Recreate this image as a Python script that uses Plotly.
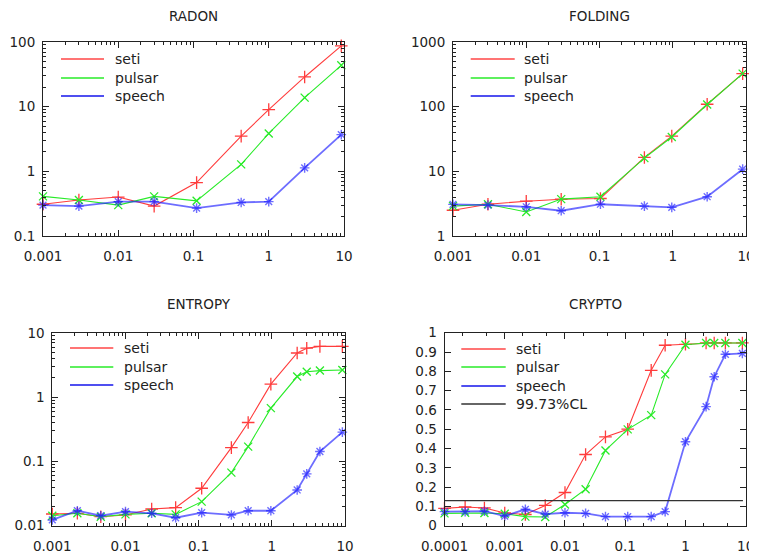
import plotly.graph_objects as go

W, H = 757, 556
OFF = 8  # page body margin of the browser
FONT = "DejaVu Sans"
INK = "#222222"

# ---------------- data ----------------
series_names = ["seti", "pulsar", "speech"]

radon_x = [0.001, 0.003, 0.01, 0.03, 0.11, 0.43, 1.0, 3.0, 9.2]
radon_seti = [0.31, 0.36, 0.40, 0.29, 0.67, 3.5, 9.0, 28.8, 87]
radon_pulsar = [0.41, 0.36, 0.30, 0.41, 0.35, 1.28, 3.85, 13.8, 43.6]
radon_speech = [0.30, 0.29, 0.34, 0.34, 0.27, 0.33, 0.34, 1.13, 3.7]

folding_x = [0.001, 0.003, 0.01, 0.03, 0.103, 0.41, 0.97, 2.95, 9.0]
folding_seti = [2.5, 3.1, 3.45, 3.7, 3.8, 16.4, 35, 109, 324]
folding_pulsar = [2.9, 3.1, 2.35, 3.72, 4.05, 16.0, 34, 108, 324]
folding_speech = [3.08, 3.0, 2.83, 2.46, 3.1, 2.9, 2.77, 4.05, 10.8]

entropy_x = [0.001, 0.0022, 0.0046, 0.01, 0.0228, 0.0485, 0.11, 0.28, 0.475,
             0.97, 2.22, 3.0, 4.54, 9.2]
entropy_seti = [0.0152, 0.0156, 0.0138, 0.0147, 0.0182, 0.0191, 0.0383, 0.164,
                0.404, 1.6, 4.88, 5.8, 6.2, 6.2]
entropy_pulsar = [0.0143, 0.0156, 0.0138, 0.015, 0.0156, 0.015, 0.0237, 0.067,
                  0.17, 0.676, 2.1, 2.5, 2.6, 2.65]
entropy_speech = [0.0123, 0.0171, 0.0143, 0.0166, 0.0156, 0.0133, 0.016, 0.0147,
                  0.0171, 0.0171, 0.036, 0.064, 0.143, 0.286]

crypto_x = [0.0001, 0.00022, 0.00046, 0.001, 0.0022, 0.0047, 0.01, 0.022, 0.047,
            0.11, 0.27, 0.46, 1.0, 2.2, 3.0, 4.6, 8.8]
crypto_seti = [0.09, 0.097, 0.092, 0.066, 0.058, 0.105, 0.172, 0.369, 0.46, 0.5,
               0.805, 0.935, 0.94, 0.947, 0.947, 0.947, 0.947]
crypto_pulsar = [0.064, 0.067, 0.066, 0.062, 0.047, 0.045, 0.11, 0.189, 0.39, 0.499,
                 0.573, 0.784, 0.938, 0.947, 0.947, 0.947, 0.947]
crypto_speech = [0.073, 0.073, 0.075, 0.05, 0.085, 0.06, 0.067, 0.064, 0.047, 0.047,
                 0.047, 0.073, 0.435, 0.617, 0.772, 0.888, 0.893]
cl_name = "99.73%CL"
cl_x = [0.0001, 9.0]
cl_level = 0.13

radon_yticks = ["0.1", "1", "10", "100"]
folding_yticks = ["1", "10", "100", "1000"]
entropy_yticks = ["0.01", "0.1", "1", "10"]
crypto_yticks = ["0", "0.1", "0.2", "0.3", "0.4", "0.5", "0.6", "0.7", "0.8", "0.9", "1"]
xticks_3to1 = ["0.001", "0.01", "0.1", "1", "10"]
xticks_4to1 = ["0.0001", "0.001", "0.01", "0.1", "1", "10"]

# ---------------- styles ----------------
styles = {
    "seti": dict(color="rgb(255,60,60)", lw=1.1, sym="cross-thin", size=9, mw=1.3),
    "pulsar": dict(color="rgb(40,235,40)", lw=1.1, sym="x-thin", size=8, mw=1.3),
    "speech": dict(color="rgba(30,30,255,0.65)", lw=1.8, sym="asterisk", size=8, mw=1.4),
}
legend_colors = {"seti": "rgb(255,70,70)", "pulsar": "rgb(40,235,40)",
                 "speech": "rgb(20,20,235)", cl_name: "#333333"}


def log_major(lo, hi):
    return [10.0 ** k for k in range(lo, hi + 1)]


def log_minor(lo, hi):
    return [m * 10.0 ** k for k in range(lo, hi) for m in range(2, 10)]


panels = [
    dict(title="RADON", sfx="", box=(43, 42, 344, 236), x=radon_x,
         ys=[radon_seti, radon_pulsar, radon_speech],
         xr=(-3, 1), xminor=log_minor(-3, 1), xt=xticks_3to1,
         ylog=True, yr=(-1, 2), yt=radon_yticks, cl=False,
         leg=(18, 61, 17.3, 18.2, 70), tdy=26),
    dict(title="FOLDING", sfx="2", box=(453, 42, 746, 236), x=folding_x,
         ys=[folding_seti, folding_pulsar, folding_speech],
         xr=(-3, 1), xminor=log_minor(-3, 1), xt=xticks_3to1,
         ylog=True, yr=(0, 3), yt=folding_yticks, cl=False,
         leg=(17.7, 61.7, 17.3, 18.2, 69), tdy=26),
    dict(title="ENTROPY", sfx="3", box=(52.3, 333, 345, 525.7), x=entropy_x,
         ys=[entropy_seti, entropy_pulsar, entropy_speech],
         xr=(-3, 1), xminor=log_minor(-3, 1), xt=xticks_3to1,
         ylog=True, yr=(-2, 1), yt=entropy_yticks, cl=False,
         leg=(17.7, 61, 15.3, 18.3, 69.4), tdy=29),
    dict(title="CRYPTO", sfx="4", box=(444.5, 332.7, 745.7, 525.7), x=crypto_x,
         ys=[crypto_seti, crypto_pulsar, crypto_speech],
         xr=(-4, 1), xminor=[m * 10.0 ** k for k in range(-4, 1) for m in (2, 5)],
         xt=xticks_4to1,
         ylog=False, yr=(0, 1), yt=crypto_yticks, cl=True,
         leg=(16.8, 61.2, 16.3, 18.4, 69.5), tdy=29),
]

fig = go.Figure()
shapes, annotations = [], []
layout = dict(template="none", width=W, height=H, margin=dict(l=0, r=0, t=0, b=0),
              paper_bgcolor="white", plot_bgcolor="white", showlegend=False)


def px(xp):
    return (xp - OFF) / W


def py(yp):
    return 1 - (yp - OFF) / H


tickfont = dict(family=FONT, size=13.5, color=INK)

for p in panels:
    x0, y0, x1, y1 = p["box"]
    xa, ya = "x" + p["sfx"], "y" + p["sfx"]
    xa_key, ya_key = "xaxis" + p["sfx"], "yaxis" + p["sfx"]

    for name, yv in zip(series_names, p["ys"]):
        s = styles[name]
        fig.add_trace(go.Scatter(
            x=p["x"], y=yv, mode="lines+markers", name=name, xaxis=xa, yaxis=ya,
            line=dict(color=s["color"], width=s["lw"]),
            marker=dict(symbol=s["sym"], size=s["size"], color=s["color"],
                        line=dict(color=s["color"], width=s["mw"])),
            showlegend=False, cliponaxis=False))
    if p["cl"]:
        fig.add_trace(go.Scatter(
            x=cl_x, y=[cl_level] * len(cl_x), mode="lines", name=cl_name,
            xaxis=xa, yaxis=ya, line=dict(color="#333333", width=1.1),
            showlegend=False))

    common = dict(showline=True, linecolor=INK, linewidth=1, mirror="ticks",
                  ticks="inside", ticklen=6, tickwidth=1, tickcolor=INK,
                  showgrid=False, zeroline=False, tickfont=tickfont,
                  automargin=False)
    layout[xa_key] = dict(
        type="log", range=list(p["xr"]), domain=[px(x0), px(x1)], anchor=ya,
        tickmode="array", tickvals=log_major(*p["xr"]), ticktext=p["xt"],
        minor=dict(tickmode="array", tickvals=p["xminor"], ticks="inside",
                   ticklen=3, tickcolor=INK, showgrid=False),
        ticklabelstandoff=8, **common)
    if p["ylog"]:
        layout[ya_key] = dict(
            type="log", range=list(p["yr"]), domain=[py(y1), py(y0)], anchor=xa,
            tickmode="array", tickvals=log_major(*p["yr"]), ticktext=p["yt"],
            minor=dict(tickmode="array", tickvals=log_minor(*p["yr"]),
                       ticks="inside", ticklen=3, tickcolor=INK, showgrid=False),
            ticklabelstandoff=4, **common)
    else:
        layout[ya_key] = dict(
            type="linear", range=list(p["yr"]), domain=[py(y1), py(y0)], anchor=xa,
            tickmode="array", tickvals=[i / 10 for i in range(11)], ticktext=p["yt"],
            ticklabelstandoff=4, **common)

    # title
    annotations.append(dict(text=p["title"], x=px((x0 + x1) / 2), y=py(y0 - p["tdy"]),
                            xref="paper", yref="paper", showarrow=False,
                            xanchor="center", yanchor="middle",
                            font=dict(family=FONT, size=13.5, color=INK)))
    # legend (line samples only)
    lx0, lx1, ly0, lstep, ltx = p["leg"]
    names = series_names + ([cl_name] if p["cl"] else [])
    for i, name in enumerate(names):
        yy = round(y0 + ly0 + i * lstep)
        shapes.append(dict(type="line", xref="paper", yref="paper",
                           x0=px(x0 + lx0), x1=px(x0 + lx1), y0=py(yy), y1=py(yy),
                           line=dict(color=legend_colors[name], width=1.3)))
        annotations.append(dict(text=name, x=px(x0 + ltx), y=py(yy),
                                xref="paper", yref="paper", showarrow=False,
                                xanchor="left", yanchor="middle",
                                font=dict(family=FONT, size=14, color=INK)))

layout["shapes"] = shapes
layout["annotations"] = annotations
fig.update_layout(**layout)
fig.write_html("out.html")
